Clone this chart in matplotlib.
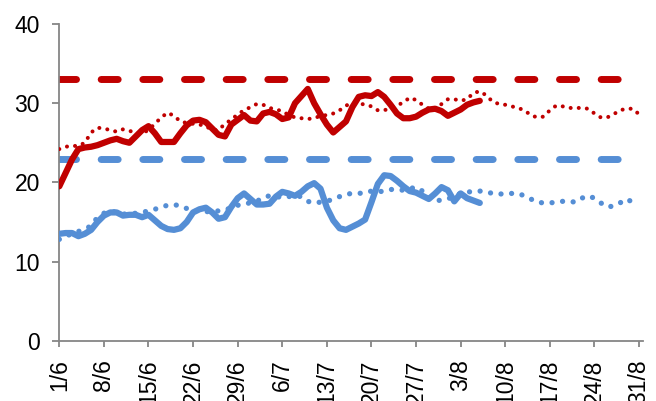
import numpy as np
import matplotlib
matplotlib.use("Agg")
import matplotlib.pyplot as plt

plt.rcParams['font.family'] = ['Liberation Sans', 'DejaVu Sans']

# Tick labels (weekly, 1 June .. 31 August)
tick_labels = ["1/6", "8/6", "15/6", "22/6", "29/6", "6/7", "13/7", "20/7",
               "27/7", "3/8", "10/8", "17/8", "24/8", "31/8"]

# Daily values, current year (1/6 .. 6/8)
red_current = [19.5, 21.2, 22.9, 24.2, 24.4, 24.5, 24.7, 25.0, 25.3, 25.5,
               25.2, 25.0, 25.8, 26.6, 27.1, 26.2, 25.1, 25.1, 25.1, 26.2,
               27.2, 27.8, 27.9, 27.6, 26.8, 26.0, 25.8, 27.3, 27.9, 28.5,
               27.8, 27.7, 28.7, 28.9, 28.6, 28.0, 28.2, 30.0, 30.9, 31.8,
               30.0, 28.6, 27.3, 26.3, 27.0, 27.7, 29.5, 30.8, 31.0, 30.9,
               31.4, 30.8, 29.8, 28.7, 28.1, 28.1, 28.3, 28.8, 29.2, 29.3,
               29.0, 28.4, 28.8, 29.2, 29.8, 30.1, 30.3]

blue_current = [13.5, 13.6, 13.6, 13.2, 13.5, 14.0, 15.0, 15.8, 16.2, 16.2,
                15.8, 15.9, 15.9, 15.6, 15.9, 15.2, 14.5, 14.1, 14.0, 14.2,
                15.0, 16.2, 16.6, 16.8, 16.2, 15.4, 15.6, 16.9, 18.0, 18.6,
                17.9, 17.2, 17.2, 17.3, 18.2, 18.8, 18.6, 18.3, 18.8, 19.5,
                19.9, 19.2, 16.8, 15.2, 14.2, 14.0, 14.4, 14.8, 15.3, 17.5,
                19.8, 20.9, 20.8, 20.2, 19.5, 18.9, 18.7, 18.3, 17.9, 18.6,
                19.4, 19.0, 17.6, 18.6, 18.0, 17.7, 17.4]

# Daily values, reference year (1/6 .. 31/8)
red_reference = [24.2, 24.5, 24.6, 24.6, 25.0, 26.3, 26.9, 26.8, 26.6, 26.4,
                 26.7, 26.5, 26.3, 26.2, 26.6, 27.4, 28.2, 28.8, 28.4, 27.7,
                 27.5, 27.4, 27.3, 27.1, 26.6, 26.6, 27.4, 27.9, 28.6, 29.1,
                 29.5, 29.9, 29.8, 29.4, 29.2, 29.0, 28.5, 28.2, 28.1, 28.0,
                 28.1, 28.4, 28.5, 28.7, 29.1, 29.7, 30.0, 30.0, 29.8, 29.6,
                 29.1, 29.1, 29.4, 29.7, 30.1, 30.7, 30.4, 29.8, 29.3, 29.1,
                 29.9, 30.5, 30.5, 30.3, 30.5, 31.3, 31.5, 31.0, 30.2, 29.9,
                 29.8, 29.6, 29.4, 29.1, 28.5, 28.2, 28.3, 29.1, 29.7, 29.6,
                 29.4, 29.4, 29.4, 29.3, 28.7, 28.2, 28.2, 28.6, 29.1, 29.3,
                 29.3, 28.6]

blue_reference = [12.8, 13.2, 13.5, 13.8, 14.1, 14.5, 15.6, 16.1, 16.4, 16.2,
                  16.0, 16.0, 16.1, 16.2, 16.4, 16.6, 16.9, 17.1, 17.2, 17.0,
                  16.7, 16.5, 16.4, 16.3, 16.3, 16.4, 16.5, 16.8, 17.1, 17.3,
                  17.4, 17.6, 18.1, 18.3, 18.2, 18.1, 18.2, 18.3, 18.2, 17.6,
                  17.4, 17.5, 17.6, 17.9, 18.2, 18.5, 18.6, 18.6, 18.7, 18.9,
                  18.8, 18.9, 19.1, 19.1, 19.0, 19.2, 19.4, 18.9, 18.2, 17.6,
                  17.8, 17.9, 18.3, 18.6, 18.8, 18.8, 18.9, 18.8, 18.6, 18.5,
                  18.6, 18.6, 18.6, 18.3, 17.9, 17.5, 17.4, 17.4, 17.5, 17.6,
                  17.6, 17.5, 18.0, 18.3, 18.0, 17.4, 16.9, 17.0, 17.4, 17.9,
                  17.5, 17.2]

# Thresholds
red_threshold = 33
blue_threshold = 23

RED = "#C00000"
BLUE = "#558ED5"
GREY = "#868686"

n_days = len(red_reference)
days_all = np.arange(n_days)
days_cur = np.arange(len(red_current))

fig = plt.figure(figsize=(6.56, 4.01), dpi=100)
ax = fig.add_axes([0.0904, 0.1504, 0.8896, 0.7897])

dash_style = (0, (2.45, 3.55))
ax.plot(days_all, [red_threshold] * n_days, color=RED, lw=5.0,
        linestyle=dash_style, dash_capstyle='round', zorder=2)
ax.plot(days_all, [blue_threshold] * n_days, color=BLUE, lw=5.0,
        linestyle=dash_style, dash_capstyle='round', zorder=2)

dot_style = (0, (0.01, 2.0))
ax.plot(days_all, red_reference, color=RED, lw=2.9, linestyle=dot_style,
        dash_capstyle='round', zorder=3)
ax.plot(days_all, blue_reference, color=BLUE, lw=3.8, linestyle=dot_style,
        dash_capstyle='round', zorder=3)

ax.plot(days_cur, red_current, color=RED, lw=4.5, solid_capstyle='round',
        solid_joinstyle='round', zorder=4)
ax.plot(days_cur, blue_current, color=BLUE, lw=4.5, solid_capstyle='round',
        solid_joinstyle='round', zorder=4)

ax.set_xlim(0, 91.6)
ax.set_ylim(0, 40)
ax.set_yticks([0, 10, 20, 30, 40])
ax.set_xticks(np.arange(0, n_days, 7))
ax.set_xticklabels(tick_labels, rotation=90)

for s in ['top', 'right']:
    ax.spines[s].set_visible(False)
for s in ['left', 'bottom']:
    ax.spines[s].set_color(GREY)
    ax.spines[s].set_linewidth(1.3)

ax.tick_params(axis='both', colors=GREY, labelcolor='black', labelsize=16.5,
               length=5, width=1.3, direction='out')
ax.tick_params(axis='y', pad=9)
ax.tick_params(axis='x', pad=9, length=4.5)

fig.savefig("out.png", dpi=100)
